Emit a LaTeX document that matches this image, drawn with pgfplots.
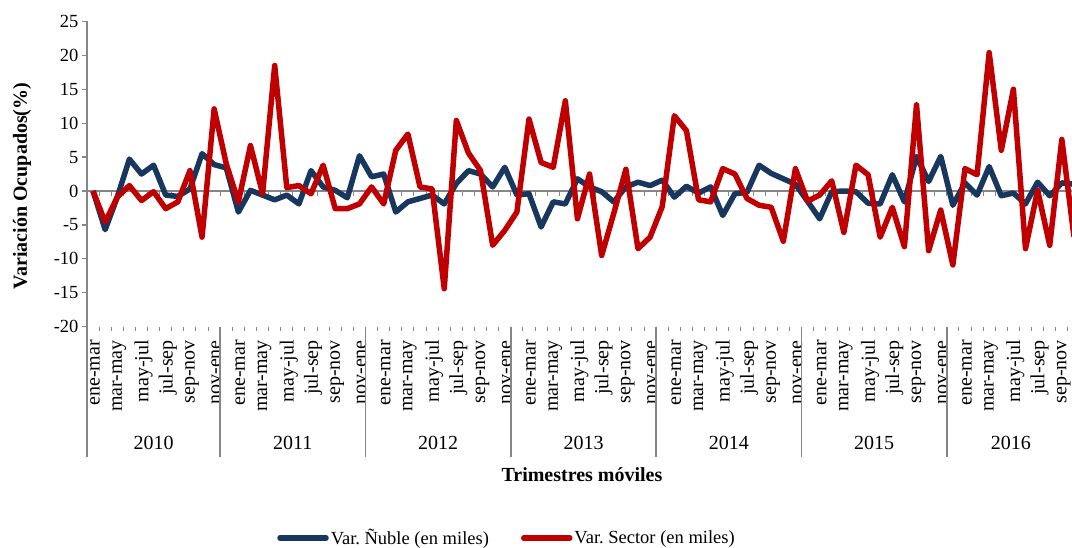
\documentclass[border=0pt]{standalone}
\usepackage{fontspec}
\setmainfont{Liberation Serif}
\usepackage{pgfplots}
\usepackage{pgfplotstable}
\pgfplotsset{compat=1.18}
\frenchspacing
\definecolor{nuble}{HTML}{17375E}
\definecolor{sector}{HTML}{C00000}
\definecolor{axisgray}{HTML}{868686}

\pgfplotstableread{
i nuble sector
0 0 0
1 -5.7 -4.6
2 -0.9 -0.9
3 4.7 0.8
4 2.5 -1.4
5 3.8 -0.1
6 -0.6 -2.6
7 -0.8 -1.6
8 0.3 3.0
9 5.5 -6.8
10 3.9 12.1
11 3.4 4.0
12 -3.1 -1.6
13 0.1 6.7
14 -0.6 -0.4
15 -1.3 18.5
16 -0.6 0.5
17 -1.9 0.8
18 3.0 -0.4
19 0.6 3.8
20 0.1 -2.6
21 -1.0 -2.6
22 5.2 -1.9
23 2.1 0.6
24 2.5 -1.9
25 -3.1 6.0
26 -1.6 8.4
27 -1.1 0.6
28 -0.6 0.3
29 -1.9 -14.4
30 1.1 10.4
31 3.0 5.6
32 2.5 3.0
33 0.6 -8.0
34 3.5 -5.8
35 -0.6 -3.1
36 -0.4 10.6
37 -5.3 4.2
38 -1.6 3.5
39 -1.9 13.3
40 1.8 -4.1
41 0.6 2.5
42 -0.1 -9.5
43 -1.6 -3.3
44 0.6 3.2
45 1.3 -8.5
46 0.8 -6.8
47 1.6 -2.3
48 -0.9 11.1
49 0.7 8.9
50 -0.3 -1.3
51 0.6 -1.6
52 -3.6 3.3
53 -0.4 2.5
54 -0.2 -1.1
55 3.8 -2.1
56 2.6 -2.4
57 1.8 -7.4
58 1.0 3.3
59 -1.5 -1.5
60 -4.1 -0.6
61 -0.1 1.5
62 0.0 -6.1
63 -0.1 3.8
64 -1.8 2.4
65 -1.9 -6.8
66 2.4 -2.4
67 -1.6 -8.2
68 5.1 12.7
69 1.4 -8.8
70 5.1 -2.8
71 -2.1 -10.9
72 1.2 3.3
73 -0.6 2.4
74 3.6 20.4
75 -0.7 6.0
76 -0.3 15.0
77 -1.9 -8.5
78 1.3 0.1
79 -0.7 -8.0
80 1.2 7.6
81 1.0 -6.7
}\datatable

\begin{document}
\begin{tikzpicture}[x=1pt,y=1pt]
\begin{axis}[
  at={(87pt,221.3pt)}, anchor=south west,
  width=985pt, height=305.3pt, scale only axis,
  xmin=-0.5, xmax=80.84, ymin=-20, ymax=25,
  clip mode=individual,
  axis x line*=bottom, axis y line*=left,
  x axis line style={draw=none},
  y axis line style={axisgray, line width=1.6pt, -},
  xtick={0,2,...,80},
  xticklabels={ene-mar,mar-may,may-jul,jul-sep,sep-nov,nov-ene,
               ene-mar,mar-may,may-jul,jul-sep,sep-nov,nov-ene,
               ene-mar,mar-may,may-jul,jul-sep,sep-nov,nov-ene,
               ene-mar,mar-may,may-jul,jul-sep,sep-nov,nov-ene,
               ene-mar,mar-may,may-jul,jul-sep,sep-nov,nov-ene,
               ene-mar,mar-may,may-jul,jul-sep,sep-nov,nov-ene,
               ene-mar,mar-may,may-jul,jul-sep,sep-nov},
  xtick style={draw=none},
  xticklabel style={rotate=90, anchor=east, inner sep=0pt, font=\fontsize{20}{22}\selectfont, xshift=-8.3pt, yshift=-2pt},
  ytick={-20,-15,...,25},
  ytick style={axisgray, line width=1.2pt},
  major tick length=5pt,
  tick align=outside,
  yticklabel style={font=\fontsize{18.5}{20}\selectfont},
  /pgf/number format/assume math mode=true,
  extra y ticks={0}, extra y tick labels={},
  extra y tick style={grid=major, major grid style={axisgray, line width=1.6pt}},
  ylabel={\textbf{Variación Ocupados(\%)}},
  ylabel style={at={(axis description cs:-0.066,0.461)}, anchor=center, font=\fontsize{20}{22}\selectfont},
  xlabel={\textbf{Trimestres móviles}},
  xlabel style={at={(axis description cs:0.5025,-0.486)}, anchor=center, font=\fontsize{20}{22}\selectfont},
  legend columns=2,
  legend style={at={(axis description cs:0.4264,-0.692)}, anchor=center, draw=none,
    font=\fontsize{18.5}{20}\selectfont, inner sep=0pt,
    /tikz/every even column/.append style={column sep=30pt}},
  legend image code/.code={\draw[#1, line cap=round] (0pt,0pt) -- (46pt,0pt);},
]
\pgfplotsinvokeforeach{0,...,80}{
  \draw[axisgray, line width=1pt] (axis cs:#1+0.5,0) -- ([yshift=-4.5pt]axis cs:#1+0.5,0);
  \draw[axisgray, line width=1pt] (axis cs:#1+0.5,-20) -- ([yshift=-4.5pt]axis cs:#1+0.5,-20);
}
\pgfplotsinvokeforeach{10.5,22.5,34.5,46.5,58.5,70.5}{
  \draw[axisgray, line width=1.6pt] (axis cs:#1,-20) -- ([yshift=-130.3pt]axis cs:#1,-20);
}
\draw[axisgray, line width=1.6pt] (axis cs:-0.5,-20) -- ([yshift=-130.3pt]axis cs:-0.5,-20);
\addplot[nuble, line width=5.5pt, line join=round] table[x=i, y=nuble] {\datatable};
\addlegendentry{Var. Ñuble (en miles)}
\addplot[sector, line width=5.5pt, line join=round] table[x=i, y=sector] {\datatable};
\addlegendentry{Var. Sector (en miles)}
\node[font=\fontsize{20}{22}\selectfont] at ([yshift=-116.3pt]axis cs:5,-20) {2010};
\node[font=\fontsize{20}{22}\selectfont] at ([yshift=-116.3pt]axis cs:16.5,-20) {2011};
\node[font=\fontsize{20}{22}\selectfont] at ([yshift=-116.3pt]axis cs:28.5,-20) {2012};
\node[font=\fontsize{20}{22}\selectfont] at ([yshift=-116.3pt]axis cs:40.5,-20) {2013};
\node[font=\fontsize{20}{22}\selectfont] at ([yshift=-116.3pt]axis cs:52.5,-20) {2014};
\node[font=\fontsize{20}{22}\selectfont] at ([yshift=-116.3pt]axis cs:64.5,-20) {2015};
\node[font=\fontsize{20}{22}\selectfont] at ([yshift=-116.3pt]axis cs:75.8,-20) {2016};
\end{axis}
\pgfresetboundingbox
\path[use as bounding box] (0,0) rectangle (1072,548);
\end{tikzpicture}
\end{document}
